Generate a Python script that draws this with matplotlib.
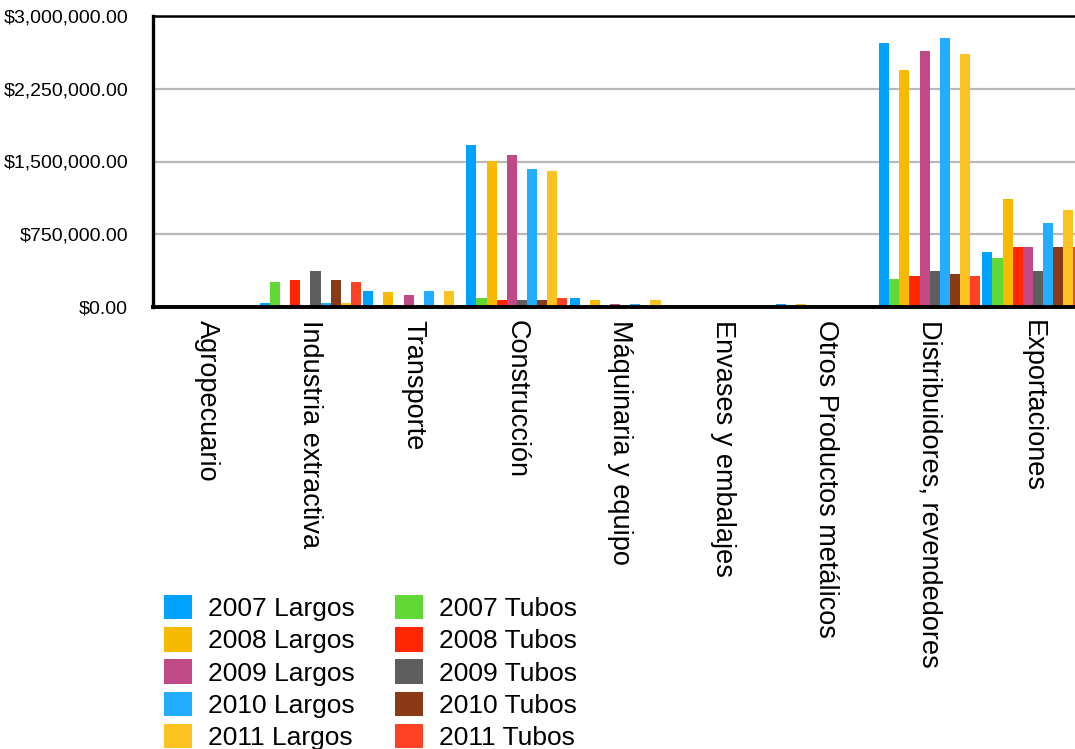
import matplotlib.pyplot as plt
import numpy as np
from matplotlib.ticker import FuncFormatter

plt.rcParams["font.family"] = ["Liberation Sans", "DejaVu Sans"]

categories = [
    "Agropecuario",
    "Industria extractiva",
    "Transporte",
    "Construcción",
    "Máquinaria y equipo",
    "Envases y embalajes",
    "Otros Productos metálicos",
    "Distribuidores, revendedores",
    "Exportaciones",
]

# values (pesos)
largos_2007 = [0, 40000, 170000, 1670000, 88000, 0, 36000, 2723000, 565000]
tubos_2007 = [0, 253000, 0, 88000, 0, 0, 0, 285000, 503000]
largos_2008 = [0, 0, 150000, 1505000, 68000, 0, 36000, 2443000, 1115000]
tubos_2008 = [0, 283000, 0, 68000, 0, 0, 0, 316000, 617000]
largos_2009 = [0, 0, 119000, 1568000, 36000, 0, 0, 2640000, 617000]
tubos_2009 = [0, 366000, 0, 68000, 0, 0, 0, 368000, 368000]
largos_2010 = [0, 40000, 170000, 1422000, 36000, 0, 0, 2775000, 866000]
tubos_2010 = [0, 283000, 0, 68000, 0, 0, 0, 337000, 617000]
largos_2011 = [0, 40000, 170000, 1401000, 68000, 0, 0, 2609000, 1001000]
tubos_2011 = [0, 253000, 0, 88000, 0, 0, 0, 316000, 617000]

# drawing order inside each category: Largos/Tubos alternating by year
series = [
    ("2007 Largos", largos_2007, "#00A2FF"),
    ("2007 Tubos", tubos_2007, "#61D836"),
    ("2008 Largos", largos_2008, "#F8BA00"),
    ("2008 Tubos", tubos_2008, "#FF2600"),
    ("2009 Largos", largos_2009, "#C04A85"),
    ("2009 Tubos", tubos_2009, "#5E5E5E"),
    ("2010 Largos", largos_2010, "#22ADFF"),
    ("2010 Tubos", tubos_2010, "#8B3A17"),
    ("2011 Largos", largos_2011, "#FAC322"),
    ("2011 Tubos", tubos_2011, "#FF4125"),
]

W, H = 1075, 749
fig = plt.figure(figsize=(W / 100, H / 100), dpi=100)
ax = fig.add_axes([153 / W, (H - 307) / H, (1075 - 153) / W, (307 - 16) / H])

x = np.arange(len(categories))
width = 0.098
handles = {}
for j, (label, vals, color) in enumerate(series):
    bars = ax.bar(x + (j - 4.5) * width, vals, width, color=color, label=label,
                  zorder=3, linewidth=0)
    handles[label] = bars

ax.set_xlim(-0.526, 8.408)
ax.set_ylim(0, 3000000)
ax.set_yticks([0, 750000, 1500000, 2250000, 3000000])
ax.yaxis.set_major_formatter(FuncFormatter(lambda v, p: f"${v:,.2f}"))
ax.tick_params(axis="y", length=0, pad=18, labelsize=14)
ax.yaxis.grid(True, color="#b8b8b8", linewidth=1.6, zorder=0)

ax.set_xticks(x)
ax.set_xticklabels(categories, rotation=-90, va="top", ha="center", fontsize=19.5)
ax.tick_params(axis="x", length=0, pad=9)

ax.spines["right"].set_visible(False)
ax.spines["left"].set_linewidth(2.4)
ax.spines["bottom"].set_linewidth(2.8)
ax.spines["top"].set_linewidth(1.8)
for s in ["left", "bottom", "top"]:
    ax.spines[s].set_color("black")
    ax.spines[s].set_zorder(5)

order = ["2007 Largos", "2008 Largos", "2009 Largos", "2010 Largos", "2011 Largos",
         "2007 Tubos", "2008 Tubos", "2009 Tubos", "2010 Tubos", "2011 Tubos"]
fig.legend([handles[k] for k in order], order, ncol=2, loc="upper left",
           bbox_to_anchor=(164 / W, (H - 595) / H), frameon=False, fontsize=19,
           handlelength=1.05, handleheight=1.05, handletextpad=0.6,
           columnspacing=1.55, labelspacing=0.225, borderpad=0, borderaxespad=0)

fig.savefig("out.png", dpi=100)
